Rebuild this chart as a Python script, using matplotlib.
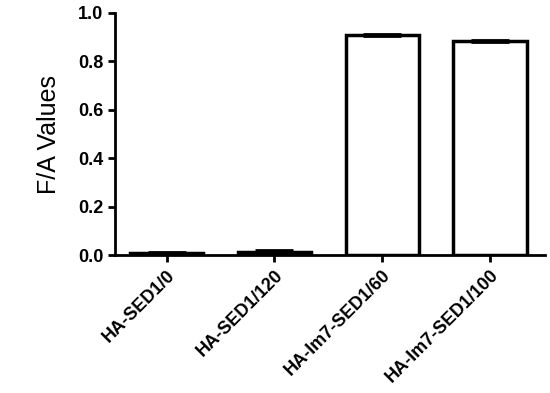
import matplotlib
matplotlib.use("Agg")
import matplotlib.pyplot as plt
import numpy as np

categories = ["HA-SED1/0", "HA-SED1/120", "HA-Im7-SED1/60", "HA-Im7-SED1/100"]
values = [0.008, 0.014, 0.910, 0.883]
errors = [0.003, 0.006, 0.005, 0.004]
yticks = [0.0, 0.2, 0.4, 0.6, 0.8, 1.0]


def main():
    plt.rcParams["font.family"] = ["Liberation Sans", "DejaVu Sans"]
    fig = plt.figure(figsize=(5.5, 3.93), dpi=100)
    ax = fig.add_axes([0.209, 0.351, 0.782, 0.616])

    x = np.arange(len(categories))
    ax.bar(x, values, width=0.68, color="white", edgecolor="black",
           linewidth=2.5, zorder=2)
    ax.errorbar(x, values, yerr=errors, fmt="none", ecolor="black",
                elinewidth=2, capsize=14, capthick=2, zorder=3)

    ax.set_xlim(-0.48, 3.51)
    ax.set_ylim(0, 1.0)
    ax.set_yticks(yticks)
    ax.set_yticklabels([f"{t:.1f}" for t in yticks], fontweight="bold",
                       fontsize=13)
    ax.set_xticks(x)
    ax.set_xticklabels(categories, rotation=45, ha="right",
                       rotation_mode="anchor", fontweight="bold", fontsize=13)
    ax.set_ylabel("F/A Values", fontsize=18, labelpad=12)

    for side in ["top", "right"]:
        ax.spines[side].set_visible(False)
    for side in ["left", "bottom"]:
        ax.spines[side].set_linewidth(2)
    ax.tick_params(width=2, length=5, direction="out")

    fig.savefig("out.png", dpi=100)


if __name__ == "__main__":
    main()
